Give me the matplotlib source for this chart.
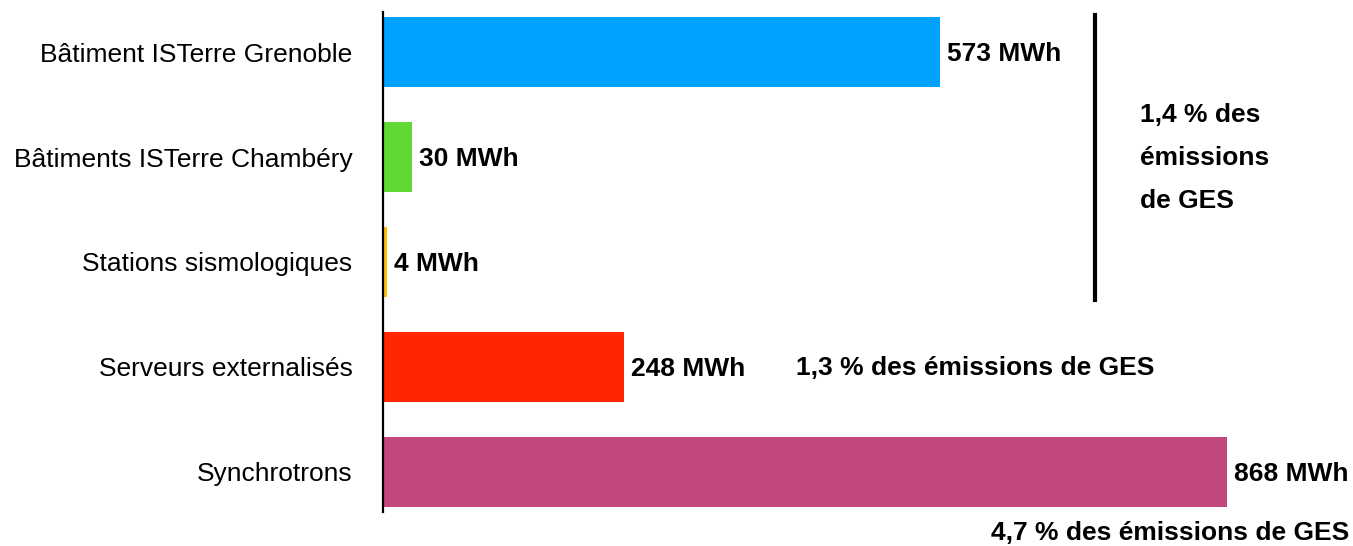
import matplotlib.pyplot as plt
from matplotlib.lines import Line2D

plt.rcParams['font.family'] = ['Liberation Sans', 'DejaVu Sans']

categories = ['Bâtiment ISTerre Grenoble', 'Bâtiments ISTerre Chambéry',
              'Stations sismologiques', 'Serveurs externalisés', 'Synchrotrons']
energy_mwh = [573, 30, 4, 248, 868]
colors = ['#00A2FF', '#61D836', '#FFC000', '#FF2600', '#C2477F']

W, H = 1353, 546
fig = plt.figure(figsize=(W / 100, H / 100), dpi=100)
ax = fig.add_axes([383 / W, (H - 512) / H, (1227 - 383) / W, 500 / H])

y = list(range(len(categories)))
ax.barh(y, energy_mwh, height=0.667, color=colors)
ax.set_xlim(0, 868)
ax.set_ylim(4.381, -0.381)
ax.set_yticks(y)
ax.set_yticklabels(categories, fontsize=19)
ax.tick_params(axis='y', length=0, pad=22)
ax.set_xticks([])
for s in ['top', 'right', 'bottom']:
    ax.spines[s].set_visible(False)
ax.spines['left'].set_linewidth(1.6)

for yi, v in zip(y, energy_mwh):
    ax.annotate(f'{v} MWh', (v, yi), xytext=(5, -1.5), textcoords='offset points',
                va='center', ha='left', fontsize=19, fontweight='bold',
                annotation_clip=False)

# bracket for the buildings + stations
fig.add_artist(Line2D([1095 / W, 1095 / W], [(H - 15) / H, (H - 300) / H],
                      color='black', linewidth=3, transform=fig.transFigure))
fig.text(1140 / W, (H - 158) / H, '1,4 % des\némissions\nde GES',
         ha='left', va='center', fontsize=19, fontweight='bold', linespacing=2.0)
fig.text(796 / W, (H - 368) / H, '1,3 % des émissions de GES',
         ha='left', va='center', fontsize=19, fontweight='bold')
fig.text(1349 / W, (H - 533) / H, '4,7 % des émissions de GES',
         ha='right', va='center', fontsize=19, fontweight='bold')

fig.savefig('out.png', dpi=100)
